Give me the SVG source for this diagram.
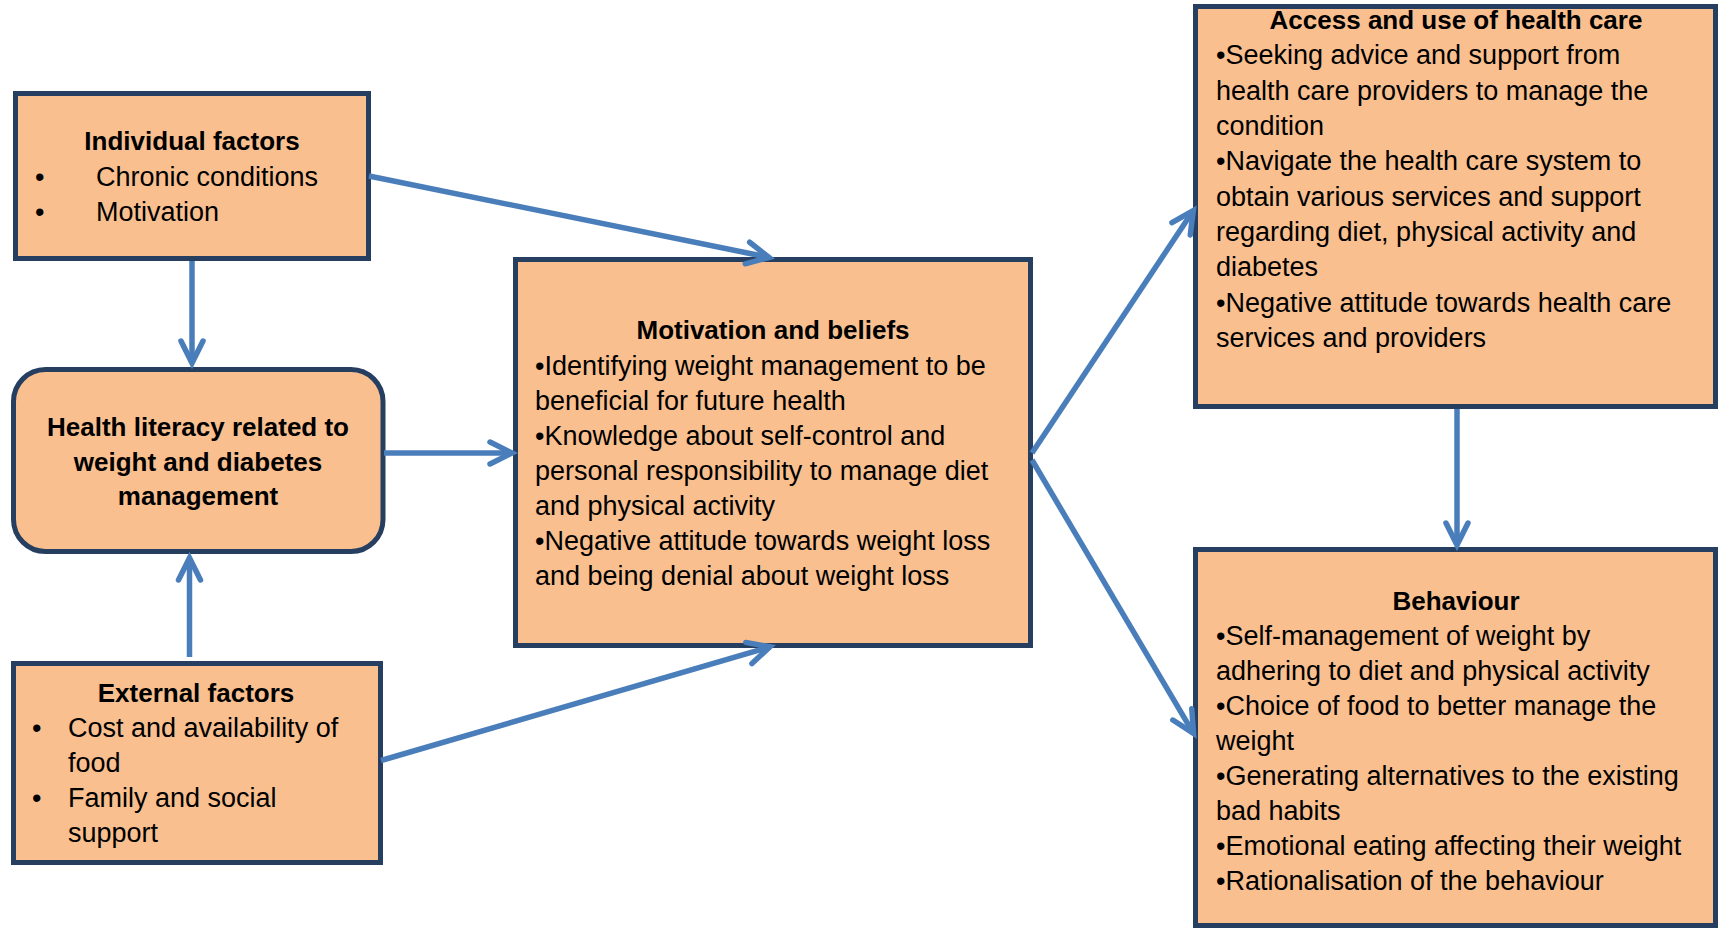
<svg xmlns="http://www.w3.org/2000/svg" width="1719" height="929" viewBox="0 0 1719 929">
  <style>
    .box { fill: #F9BF8F; stroke: #263F61; stroke-width: 5; }
    .t { font-family: "Liberation Sans", Arial, sans-serif; font-size: 27px; fill: #000; }
    .b { font-family: "Liberation Sans", Arial, sans-serif; font-size: 26px; font-weight: bold; fill: #000; text-anchor: middle; }
    .conn { stroke: #4A7EBB; stroke-width: 5.5; fill: none; marker-end: url(#arr); }
  </style>
  <defs>
    <marker id="arr" markerUnits="userSpaceOnUse" markerWidth="60" markerHeight="60" refX="0" refY="0" orient="auto" overflow="visible">
      <path d="M-22,-11 L0,0 L-22,11" fill="none" stroke="#4A7EBB" stroke-width="5.5" stroke-linecap="round" stroke-linejoin="miter"/>
    </marker>
  </defs>
  <rect width="1719" height="929" fill="#FFFFFF"/>

  <g id="individual">
    <rect class="box" x="15.5" y="93.5" width="353" height="165"/>
    <text class="b" x="192" y="150">Individual factors</text>
    <text class="t" x="35" y="186">•</text>
    <text class="t" x="96" y="186">Chronic conditions</text>
    <text class="t" x="35" y="221">•</text>
    <text class="t" x="96" y="221">Motivation</text>
  </g>

  <g id="health-literacy">
    <rect class="box" x="13.5" y="369.5" width="369.5" height="182" rx="32" ry="32"/>
    <text class="b" x="198" y="436">Health literacy related to</text>
    <text class="b" x="198" y="470.5">weight and diabetes</text>
    <text class="b" x="198" y="505">management</text>
  </g>

  <g id="external">
    <rect class="box" x="13.5" y="663.5" width="367" height="199"/>
    <text class="b" x="196" y="702">External factors</text>
    <text class="t" x="32" y="737">•</text>
    <text class="t" x="68" y="737">Cost and availability of</text>
    <text class="t" x="68" y="772">food</text>
    <text class="t" x="32" y="807">•</text>
    <text class="t" x="68" y="807">Family and social</text>
    <text class="t" x="68" y="842">support</text>
  </g>

  <g id="motivation">
    <rect class="box" x="515.5" y="259.5" width="515" height="386"/>
    <text class="b" x="773" y="339">Motivation and beliefs</text>
    <text class="t" x="535" y="375">•Identifying weight management to be</text>
    <text class="t" x="535" y="410">beneficial for future health</text>
    <text class="t" x="535" y="445">•Knowledge about self-control and</text>
    <text class="t" x="535" y="480">personal responsibility to manage diet</text>
    <text class="t" x="535" y="515">and physical activity</text>
    <text class="t" x="535" y="550">•Negative attitude towards weight loss</text>
    <text class="t" x="535" y="585">and being denial about weight loss</text>
  </g>

  <g id="access">
    <rect class="box" x="1195.5" y="6.5" width="520" height="400"/>
    <text class="b" x="1456" y="29">Access and use of health care</text>
    <text class="t" x="1216" y="64">•Seeking advice and support from</text>
    <text class="t" x="1216" y="99.5">health care providers to manage the</text>
    <text class="t" x="1216" y="135">condition</text>
    <text class="t" x="1216" y="170">•Navigate the health care system to</text>
    <text class="t" x="1216" y="205.5">obtain various services and support</text>
    <text class="t" x="1216" y="241">regarding diet, physical activity and</text>
    <text class="t" x="1216" y="276">diabetes</text>
    <text class="t" x="1216" y="311.5">•Negative attitude towards health care</text>
    <text class="t" x="1216" y="347">services and providers</text>
  </g>

  <g id="behaviour">
    <rect class="box" x="1195.5" y="549.5" width="520" height="376"/>
    <text class="b" x="1456" y="610">Behaviour</text>
    <text class="t" x="1216" y="645">•Self-management of weight by</text>
    <text class="t" x="1216" y="680">adhering to diet and physical activity</text>
    <text class="t" x="1216" y="715">•Choice of food to better manage the</text>
    <text class="t" x="1216" y="750">weight</text>
    <text class="t" x="1216" y="785">•Generating alternatives to the existing</text>
    <text class="t" x="1216" y="820">bad habits</text>
    <text class="t" x="1216" y="855">•Emotional eating affecting their weight</text>
    <text class="t" x="1216" y="890">•Rationalisation of the behaviour</text>
  </g>

  <g id="connectors">
    <line class="conn" x1="369" y1="176" x2="769" y2="257.4"/>
    <line class="conn" x1="192" y1="261" x2="192" y2="363"/>
    <line class="conn" x1="189.5" y1="657" x2="189.5" y2="558"/>
    <line class="conn" x1="384" y1="453" x2="512" y2="453"/>
    <line class="conn" x1="381" y1="760.5" x2="770" y2="646.8"/>
    <line class="conn" x1="1032" y1="453" x2="1193.3" y2="210.5"/>
    <line class="conn" x1="1032" y1="460" x2="1193.5" y2="733.4"/>
    <line class="conn" x1="1457" y1="409" x2="1457" y2="545"/>
  </g>
</svg>
